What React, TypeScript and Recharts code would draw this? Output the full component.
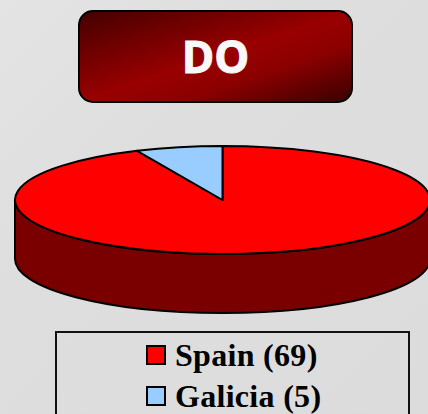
import { Legend, Pie, PieChart } from 'recharts'

const names = ['Spain', 'Galicia']
const counts = [69, 5]
const colors = ['#ff0000', '#99ccff']
const sideColors = ['#7a0000', '#4d667f']

const chartData = names.map((name, i) => ({
  name,
  value: counts[i],
  fill: colors[i],
  side: sideColors[i],
}))

const RAD = Math.PI / 180
const TILT = 54 / 207.5
const DEPTH = 59

function PieSlice3D(props: any) {
  const { cx, cy, outerRadius, startAngle, endAngle, fill, side } = props
  const rx = outerRadius
  const ry = outerRadius * TILT
  const pt = (a: number, dy = 0) =>
    `${cx + rx * Math.cos(a * RAD)} ${cy - ry * Math.sin(a * RAD) + dy}`
  const large = Math.abs(endAngle - startAngle) > 180 ? 1 : 0
  const top = `M${cx} ${cy} L${pt(startAngle)} A${rx} ${ry} 0 ${large} 1 ${pt(endAngle)} Z`

  // wall only shows on the front half of the rim (-180 to 0)
  const from = Math.min(startAngle, 0)
  const to = Math.max(endAngle, -180)
  const wall =
    from > to
      ? `M${pt(from)} A${rx} ${ry} 0 0 1 ${pt(to)} L${pt(to, DEPTH)} A${rx} ${ry} 0 0 0 ${pt(from, DEPTH)} Z`
      : null

  return (
    <g>
      {wall && <path d={wall} fill={side} stroke="#000" strokeWidth={2} strokeLinejoin="round" />}
      <path d={top} fill={fill} stroke="#000" strokeWidth={2} strokeLinejoin="round" />
    </g>
  )
}

function LegendBox({ payload }: any) {
  return (
    <div
      style={{
        boxSizing: 'border-box',
        width: 355,
        height: 100,
        border: '2px solid #111',
        fontFamily: '"Liberation Serif", serif',
        fontWeight: 700,
        fontSize: 32,
        letterSpacing: 0.3,
        color: '#000',
      }}
    >
      {(payload ?? []).map((entry: any) => (
        <div
          key={entry.value}
          style={{ display: 'flex', alignItems: 'center', height: 41, paddingLeft: 89, lineHeight: '41px' }}
        >
          <span
            style={{
              boxSizing: 'border-box',
              width: 20,
              height: 20,
              marginRight: 9,
              marginTop: 2,
              background: entry.color,
              border: '2px solid #000',
            }}
          />
          <span style={{ position: 'relative', top: 2 }}>{`${entry.value} (${entry.payload.value})`}</span>
        </div>
      ))}
    </div>
  )
}

export default function App() {
  return (
    <div
      style={{
        position: 'fixed',
        left: 0,
        top: 0,
        width: 428,
        height: 414,
        overflow: 'hidden',
        background: 'linear-gradient(135deg, #e4e4e4 0%, #dedede 35%, #dcdcdc 100%)',
      }}
    >
      <PieChart width={428} height={414} margin={{ top: 0, right: 0, bottom: 0, left: 0 }}>
        <defs>
          <linearGradient id="titleFill" x1="0" y1="0" x2="1" y2="1">
            <stop offset="0%" stopColor="#440000" />
            <stop offset="50%" stopColor="#990000" />
            <stop offset="68%" stopColor="#8c0000" />
            <stop offset="100%" stopColor="#380000" />
          </linearGradient>
        </defs>
        <rect x={79} y={11} width={273} height={91} rx={14} fill="url(#titleFill)" stroke="#000" strokeWidth={2} />
        <text
          x={215.5}
          y={73}
          textAnchor="middle"
          fill="#f8f8f8"
          stroke="#f8f8f8"
          strokeWidth={1}
          fontFamily='"Open Sans", sans-serif'
          fontWeight={700}
          fontSize={44}
        >
          DO
        </text>
        <Pie
          data={chartData}
          dataKey="value"
          nameKey="name"
          cx={222.5}
          cy={200}
          outerRadius={207.5}
          startAngle={90}
          endAngle={-270}
          paddingAngle={0}
          stroke="#000"
          shape={PieSlice3D}
          isAnimationActive={false}
        />
        <Legend
          content={<LegendBox />}
          itemSorter={null}
          wrapperStyle={{ position: 'absolute', left: 55, top: 331, width: 355, bottom: 'auto' }}
        />
      </PieChart>
    </div>
  )
}
